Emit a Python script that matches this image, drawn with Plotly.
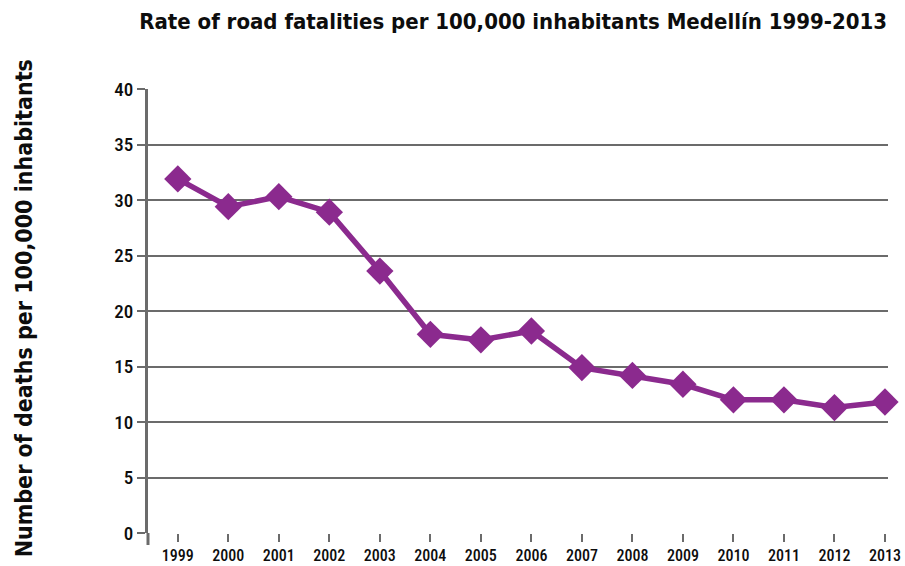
import plotly.graph_objects as go

# Road fatality rate per 100,000 inhabitants, Medellín
years = [1999, 2000, 2001, 2002, 2003, 2004, 2005, 2006, 2007, 2008, 2009, 2010, 2011, 2012, 2013]
rates = [31.9, 29.4, 30.3, 28.9, 23.6, 17.9, 17.4, 18.2, 14.9, 14.2, 13.4, 12.0, 12.0, 11.3, 11.8]
y_ticks = [0, 5, 10, 15, 20, 25, 30, 35, 40]

TICK_FONT = "Roboto Condensed, Liberation Sans Narrow, Roboto, sans-serif"
TITLE_FONT = "DejaVu Sans Condensed, Roboto Condensed, sans-serif"
PURPLE = "#8b2a8e"
GRID = "#6b6b6b"
INK = "#0d0d0d"

fig = go.Figure()
fig.add_trace(go.Scatter(
    x=years, y=rates, mode="lines+markers",
    line=dict(color=PURPLE, width=5.5),
    marker=dict(symbol="diamond", size=21, color=PURPLE),
    cliponaxis=False,
    showlegend=False, hoverinfo="x+y",
))

# y-axis line continues a little below zero
fig.add_shape(type="line", xref="x domain", yref="y domain",
              x0=0, x1=0, y0=0, y1=-0.027,
              line=dict(color=GRID, width=3))

fig.add_annotation(
    text="<b>Number of deaths per 100,000 inhabitants</b>",
    xref="paper", yref="paper", x=-0.1676, y=0.506,
    xanchor="center", yanchor="middle", textangle=-90, showarrow=False,
    font=dict(size=23, family=TITLE_FONT, color=INK),
)

fig.update_layout(
    width=905, height=566,
    margin=dict(l=148, r=17, t=89, b=33),
    paper_bgcolor="white", plot_bgcolor="white",
    font=dict(family=TICK_FONT, color=INK),
    title=dict(
        text="<b>Rate of road fatalities per 100,000 inhabitants Medellín 1999-2013</b>",
        x=0.567, xanchor="center", y=0.963, yanchor="middle",
        font=dict(size=22, family=TITLE_FONT, color=INK),
    ),
    xaxis=dict(
        range=[1998.41, 2013.06], tickvals=years, ticktext=[str(y) for y in years],
        showgrid=False, zeroline=False, showline=False, automargin=False,
        ticks="outside", ticklen=8, tickwidth=2, tickcolor=GRID,
        tickfont=dict(size=16, family=TICK_FONT, color=INK, weight=500),
    ),
    yaxis=dict(
        range=[0, 40], tickvals=y_ticks, automargin=False,
        showgrid=True, gridcolor=GRID, gridwidth=2, zeroline=False,
        showline=True, linecolor=GRID, linewidth=3,
        ticks="outside", ticklen=8, tickwidth=2, tickcolor=GRID,
        tickfont=dict(size=19, family=TICK_FONT, color=INK, weight=500),
    ),
)

fig.write_html("out.html")
